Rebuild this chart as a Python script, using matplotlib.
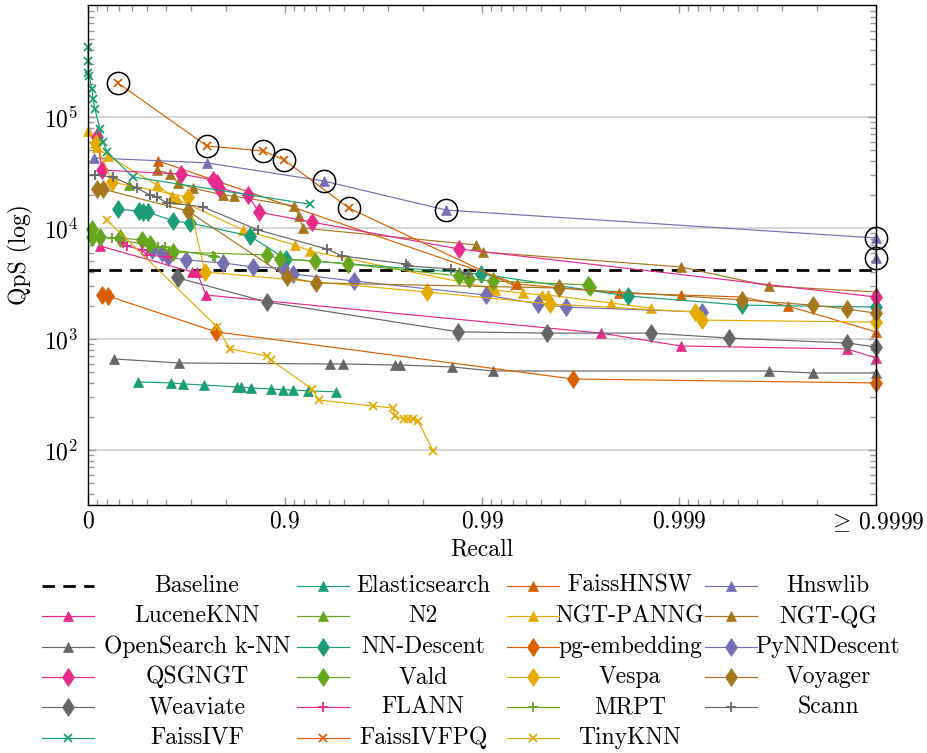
import numpy as np
import matplotlib
matplotlib.use("Agg")
import matplotlib.pyplot as plt
from matplotlib.lines import Line2D
from matplotlib.ticker import FixedLocator, NullFormatter, LogLocator

plt.rcParams['font.family'] = ['cmr10', 'DejaVu Serif']
plt.rcParams['mathtext.fontset'] = 'cm'
plt.rcParams['axes.formatter.use_mathtext'] = True

# ---------------- data (recall, queries per second) ----------------
baseline_qps = 4190

elasticsearch_recall = [0.443, 0.621, 0.670, 0.742, 0.825, 0.833, 0.851, 0.882, 0.898, 0.9089, 0.9236, 0.9449]
elasticsearch_qps = [410, 402, 394, 385, 370, 370, 362, 355, 348, 348, 341, 334]

faisshnsw_recall = [0.559, 0.99336, 0.99798, 0.99902, 0.99952, 0.99972, 0.99995]
faisshnsw_qps = [40200, 3130, 2590, 2490, 2390, 1980, 1160]

hnswlib_recall = [0.068, 0.751, 0.9366, 0.9848, 0.99995, 0.99999]
hnswlib_qps = [42800, 38600, 26500, 14500, 8130, 5370]

luceneknn_recall = [0.131, 0.703, 0.720, 0.748, 0.99751, 0.99902, 0.99986, 0.99995]
luceneknn_qps = [6890, 4020, 4020, 2490, 1130, 865, 813, 675]

n2_recall = [0.381]
n2_qps = [24400]

ngtpanng_recall = [0.0, 0.078, 0.100, 0.208, 0.554, 0.625, 0.647, 0.837, 0.9110, 0.9253,
                   0.99089, 0.99141, 0.99381, 0.99504, 0.99538, 0.99779, 0.99861]
ngtpanng_qps = [74800, 58300, 53700, 44600, 24400, 19400, 18200, 9590, 7030, 6210,
                2880, 2760, 2590, 2490, 2490, 2110, 1900]

ngtqg_recall = [0.554, 0.617, 0.651, 0.707, 0.794, 0.818, 0.9100, 0.9151, 0.9190, 0.9893,
                0.9901, 0.99902, 0.99965, 0.99995]
ngtqg_qps = [33300, 30600, 25400, 22900, 19800, 19400, 15800, 12800, 10000, 7030,
             6080, 4460, 3000, 2650]

opensearch_recall = [0.262, 0.655, 0.9409, 0.9492, 0.9724, 0.9739, 0.9858, 0.9912, 0.99965, 0.99979, 0.99995]
opensearch_qps = [661, 608, 596, 596, 583, 583, 560, 515, 515, 494, 494]

nndescent_recall = [0.296, 0.449, 0.474, 0.504, 0.630, 0.697, 0.849, 0.9012, 0.9899, 0.99818, 0.99952, 0.99995]
nndescent_qps = [14800, 14200, 13900, 13900, 11600, 11100, 8470, 5260, 3850, 2440, 2020, 1940]

pgembedding_recall = [0.151, 0.208, 0.776, 0.99655, 0.99995]
pgembedding_qps = [2490, 2440, 1160, 436, 402]

pynndescent_recall = [0.527, 0.579, 0.607, 0.682, 0.794, 0.855, 0.898, 0.9089, 0.9554,
                      0.99046, 0.99480, 0.99625, 0.99924]
pynndescent_qps = [6340, 5960, 5480, 5150, 4840, 4460, 4360, 3850, 3330, 2490, 2070, 1940, 1750]

qsgngt_recall = [0.100, 0.151, 0.663, 0.768, 0.779, 0.784, 0.846, 0.864, 0.9271, 0.9869, 0.99995]
qsgngt_qps = [66000, 33300, 30600, 27100, 25400, 22900, 19800, 13900, 11300, 6470, 2390]

vald_recall = [0.046, 0.046, 0.131, 0.312, 0.468, 0.516, 0.630, 0.877, 0.894, 0.9296, 0.9521,
               0.9869, 0.9884, 0.9912, 0.9971, 0.99717]
vald_qps = [9790, 8290, 8290, 8130, 7800, 7180, 6080, 5720, 5260, 5040, 4740,
            3700, 3480, 3330, 3070, 2940]

vespa_recall = [0.089, 0.245, 0.689, 0.745, 0.9810, 0.99548, 0.99917, 0.99924, 0.99995]
vespa_qps = [58300, 25900, 19000, 4020, 2650, 2070, 1750, 1480, 1420]

voyager_recall = [0.100, 0.161, 0.689, 0.9023, 0.9304, 0.99593, 0.99952, 0.99979, 0.99986, 0.99995]
voyager_qps = [22400, 22400, 14200, 3620, 3200, 2880, 2250, 2020, 1860, 1710]

weaviate_recall = [0.647, 0.651, 0.877, 0.9868, 0.99532, 0.99861, 0.99944, 0.99986, 0.99995]
weaviate_qps = [3620, 3550, 2150, 1160, 1130, 1130, 1020, 920, 847]

flann_recall = [0.312, 0.336, 0.366, 0.468, 0.498, 0.607]
flann_qps = [7800, 7330, 6890, 6340, 5720, 5480]

mrpt_recall = [0.245, 0.312, 0.559, 0.593, 0.630, 0.768, 0.773]
mrpt_qps = [8130, 7800, 6750, 6750, 6340, 5600, 5480]

scann_recall = [0.078, 0.253, 0.436, 0.516, 0.554, 0.603, 0.617, 0.739, 0.863, 0.9388,
                0.9486, 0.9757, 0.9763, 0.9856, 0.9882]
scann_qps = [30000, 28800, 22900, 19800, 19000, 16800, 16800, 15500, 9590, 6470,
             5600, 4740, 4550, 4280, 3850]

faissivf_recall = [0.0, 0.0, 0.002, 0.012, 0.046, 0.057, 0.078, 0.131, 0.161, 0.199, 0.409, 0.925]
faissivf_qps = [427000, 320000, 249000, 234000, 179000, 145000, 118000, 78000, 59500, 48400, 28800, 16400]

faissivfpq_recall = [0.296, 0.751, 0.871, 0.899, 0.9527, 0.9932]
faissivfpq_qps = [202000, 54800, 49400, 41000, 15100, 3000]

tinyknn_recall = [0.199, 0.779, 0.810, 0.877, 0.882, 0.9271, 0.9328, 0.9643, 0.9717, 0.9724,
                  0.9751, 0.9763, 0.9776, 0.9789, 0.9823]
tinyknn_qps = [11800, 1280, 813, 703, 647, 355, 282, 249, 239, 202, 190, 190, 190, 182, 98]

# highlighted points (indices into the series above)
faissivfpq_highlight = [0, 1, 2, 3, 4]
hnswlib_highlight = [2, 3, 4, 5]

x_tick_values = [0, 0.9, 0.99, 0.999, 0.9999]
x_tick_labels = ['$0$', '$0.9$', '$0.99$', '$0.999$', r'$\geq\,0.9999$']
y_tick_values = [1e2, 1e3, 1e4, 1e5]

# ---------------- styling ----------------
TEAL, ORANGE, PURPLE, PINK = '#1b9e77', '#d95f02', '#7570b3', '#e7298a'
GREEN, YELLOW, BROWN, GRAY = '#66a61e', '#e6ab02', '#a6761d', '#666666'

series = [
    ('Elasticsearch', elasticsearch_recall, elasticsearch_qps, TEAL, '^'),
    ('FaissHNSW', faisshnsw_recall, faisshnsw_qps, ORANGE, '^'),
    ('Hnswlib', hnswlib_recall, hnswlib_qps, PURPLE, '^'),
    ('LuceneKNN', luceneknn_recall, luceneknn_qps, PINK, '^'),
    ('N2', n2_recall, n2_qps, GREEN, '^'),
    ('NGT-PANNG', ngtpanng_recall, ngtpanng_qps, YELLOW, '^'),
    ('NGT-QG', ngtqg_recall, ngtqg_qps, BROWN, '^'),
    ('OpenSearch k-NN', opensearch_recall, opensearch_qps, GRAY, '^'),
    ('NN-Descent', nndescent_recall, nndescent_qps, TEAL, 'd'),
    ('pg-embedding', pgembedding_recall, pgembedding_qps, ORANGE, 'd'),
    ('PyNNDescent', pynndescent_recall, pynndescent_qps, PURPLE, 'd'),
    ('QSGNGT', qsgngt_recall, qsgngt_qps, PINK, 'd'),
    ('Vald', vald_recall, vald_qps, GREEN, 'd'),
    ('Vespa', vespa_recall, vespa_qps, YELLOW, 'd'),
    ('Voyager', voyager_recall, voyager_qps, BROWN, 'd'),
    ('Weaviate', weaviate_recall, weaviate_qps, GRAY, 'd'),
    ('FLANN', flann_recall, flann_qps, PINK, '+'),
    ('MRPT', mrpt_recall, mrpt_qps, GREEN, '+'),
    ('Scann', scann_recall, scann_qps, GRAY, '+'),
    ('FaissIVF', faissivf_recall, faissivf_qps, TEAL, 'x'),
    ('FaissIVFPQ', faissivfpq_recall, faissivfpq_qps, ORANGE, 'x'),
    ('TinyKNN', tinyknn_recall, tinyknn_qps, YELLOW, 'x'),
]

MSIZE = {'^': 7.2, 'd': 9.5, '+': 7.5, 'x': 5.5}
W, H = 927, 753


def fwd(r):
    r = np.asarray(r, dtype=float)
    with np.errstate(divide='ignore', invalid='ignore'):
        t = -np.log10(np.clip(1.0 - r, 1e-12, None))
    return np.clip(t, 0.0, 4.0)


def inv(t):
    t = np.asarray(t, dtype=float)
    return 1.0 - 10.0 ** (-t)


fig = plt.figure(figsize=(W / 100, H / 100), dpi=100)
ax = fig.add_axes([88 / W, 1 - 505 / H, (876 - 88) / W, 500 / H])
ax.set_xscale('function', functions=(fwd, inv))
ax.set_yscale('log')
ax.set_xlim(0, 0.9999)
ax.set_ylim(10 ** 1.5045, 10 ** 6.009)

handles = {}
ax.axhline(baseline_qps, color='black', lw=2.0, ls=(0, (4.5, 3)), zorder=3)
handles['Baseline'] = Line2D([], [], color='black', lw=2.0, ls=(0, (4.5, 3)))

for name, rec, qps, col, mk in series:
    lw_m = 1.3 if mk in ('+', 'x') else 0.5
    ln, = ax.plot(rec, qps, color=col, lw=0.85, marker=mk, ms=MSIZE[mk],
                  markeredgewidth=lw_m, markerfacecolor=col, markeredgecolor=col,
                  zorder=4, clip_on=False)
    handles[name] = ln

# highlight circles
for rec, qps, idx in [(faissivfpq_recall, faissivfpq_qps, faissivfpq_highlight),
                      (hnswlib_recall, hnswlib_qps, hnswlib_highlight)]:
    ax.plot(np.array(rec)[idx], np.array(qps)[idx], ls='none', marker='o', ms=16,
            mfc='none', mec='black', mew=1.1, zorder=6, clip_on=False)

# ticks
minor_x = []
for k in range(4):
    base = 1 - 10.0 ** (-k)
    step = 10.0 ** (-(k + 1))
    for j in range(1, 9):
        minor_x.append(base + j * step)
ax.xaxis.set_major_locator(FixedLocator(x_tick_values))
ax.set_xticklabels(x_tick_labels)
ax.xaxis.set_minor_locator(FixedLocator(minor_x))
ax.xaxis.set_minor_formatter(NullFormatter())
ax.yaxis.set_major_locator(FixedLocator(y_tick_values))
ax.set_yticklabels([r'$10^{%d}$' % int(round(np.log10(v))) for v in y_tick_values])
ax.yaxis.set_minor_locator(LogLocator(base=10, subs=np.arange(2, 10), numticks=20))
ax.yaxis.set_minor_formatter(NullFormatter())

ax.tick_params(which='both', direction='in', top=True, right=True, color='#999999',
               labelsize=17, width=1.0)
ax.tick_params(which='major', length=6, pad=4)
ax.tick_params(which='minor', length=4.5)
ax.tick_params(axis='y', which='major', pad=7)
ax.grid(True, which='major', axis='y', color='#d4d4d4', lw=1.3, zorder=0)
for s in ax.spines.values():
    s.set_linewidth(1.0)
    s.set_color('black')
    s.set_zorder(7)

ax.set_xlabel('Recall', fontsize=17, labelpad=3)
ax.set_ylabel('QpS (log)', fontsize=17, labelpad=8)

# legend: 4 columns, row-major order, labels centred in their columns
order = ['Baseline'] + [s[0] for s in series]
ncol = 4
nrow = int(np.ceil(len(order) / ncol))
col_left = [42, 297, 507, 705]      # pixel x of each column's sample line
col_center = [197, 423, 630, 828]   # pixel x of each column's label centre
legends = []
for c in range(ncol):
    names = [order[r * ncol + c] for r in range(nrow) if r * ncol + c < len(order)]
    leg = fig.legend([handles[n] for n in names], [''] * len(names), loc='upper left',
                     bbox_to_anchor=(col_left[c] / W, 1 - 577 / H), frameon=False,
                     fontsize=17, handlelength=2.2, handletextpad=0.0,
                     labelspacing=0.35, numpoints=1, borderaxespad=0, borderpad=0)
    legends.append((leg, names, col_center[c]))

fig.canvas.draw()
renderer = fig.canvas.get_renderer()
for leg, names, cx in legends:
    for h, n in zip(leg.legend_handles, names):
        bb = h.get_window_extent(renderer)
        yc = 0.5 * (bb.y0 + bb.y1) / fig.bbox.height
        fig.text(cx / W, yc, n, ha='center', va='center', fontsize=17)

fig.savefig('out.png', dpi=100)
